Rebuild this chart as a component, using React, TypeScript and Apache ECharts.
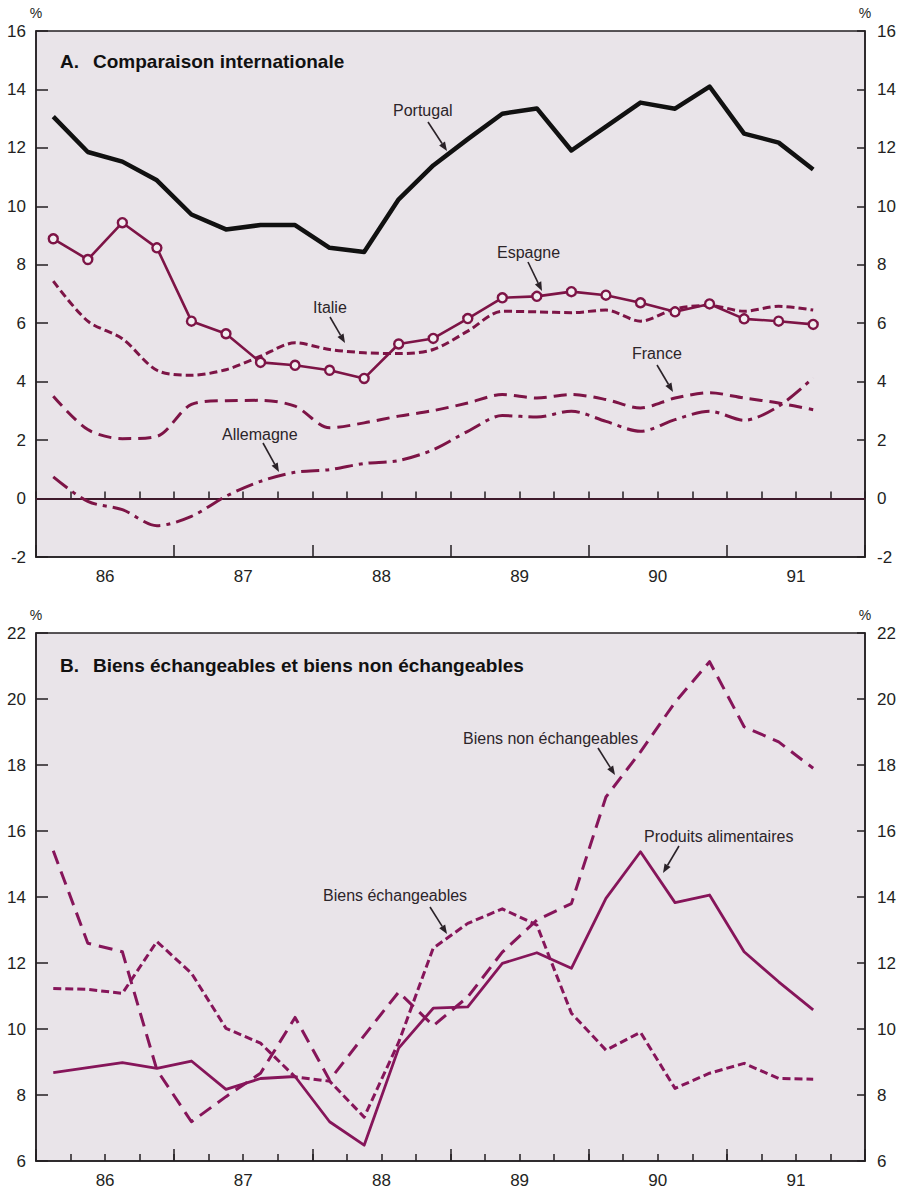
import React, { useEffect, useRef } from "react";
import * as echarts from "echarts";

// ---- Data (quarterly, 1986 Q1 .. 1991 Q4) ----
const years = ["86", "87", "88", "89", "90", "91"];
const quarters = years.flatMap((y) => ["T1", "T2", "T3", "T4"].map((q) => y + q));

// Panel A : Comparaison internationale (%)
const portugal = [13.07, 11.86, 11.53, 10.89, 9.72, 9.21, 9.36, 9.36, 8.58, 8.44, 10.24, 11.4, 12.3, 13.17, 13.35, 11.91, 12.73, 13.55, 13.34, 14.1, 12.49, 12.18, 11.26];
const espagne = [8.89, 8.18, 9.44, 8.58, 6.07, 5.64, 4.66, 4.56, 4.39, 4.11, 5.29, 5.48, 6.16, 6.87, 6.92, 7.08, 6.96, 6.7, 6.39, 6.66, 6.15, 6.07, 5.96];
const italie = [7.44, 6.07, 5.47, 4.39, 4.22, 4.41, 4.87, 5.33, 5.1, 4.99, 4.96, 5.1, 5.73, 6.41, 6.39, 6.36, 6.45, 6.07, 6.49, 6.61, 6.41, 6.58, 6.45];
const france = [3.5, 2.36, 2.05, 2.13, 3.22, 3.35, 3.36, 3.16, 2.42, 2.59, 2.82, 3.01, 3.27, 3.56, 3.44, 3.56, 3.39, 3.1, 3.44, 3.62, 3.44, 3.27, 3.04];
const allemagne = [0.74, -0.1, -0.38, -0.93, -0.61, 0.08, 0.59, 0.9, 0.99, 1.2, 1.3, 1.67, 2.3, 2.84, 2.79, 2.99, 2.64, 2.3, 2.7, 2.99, 2.68, 3.16, 4.13];

// Panel B : Biens échangeables et biens non échangeables (%)
const produitsAlimentaires = [8.68, 8.83, 8.98, 8.81, 9.03, 8.17, 8.5, 8.56, 7.19, 6.48, 9.42, 10.63, 10.67, 11.99, 12.31, 11.84, 13.96, 15.37, 13.83, 14.06, 12.34, 11.43, 10.58];
const biensNonEchangeables = [15.4, 12.6, 12.34, 8.76, 7.19, 7.95, 8.66, 10.35, 8.45, 9.8, 11.12, 10.1, 10.97, 12.33, 13.3, 13.8, 17.03, 18.4, 19.9, 21.13, 19.16, 18.7, 17.9];
const biensEchangeables = [11.23, 11.2, 11.08, 12.65, 11.69, 10.02, 9.57, 8.55, 8.42, 7.33, 9.6, 12.45, 13.2, 13.64, 13.15, 10.48, 9.36, 9.9, 8.2, 8.66, 8.96, 8.5, 8.48];

const yTicksA = { min: -2, max: 16, interval: 2 };
const yTicksB = { min: 6, max: 22, interval: 2 };

const FONT = "'Liberation Sans', Arial, Helvetica, sans-serif";
const AXIS = "#231f22";
const LINE = "#7d1446";
const LINE_B = "#86155a";
const BG = "#e9e4e9";

function arrow(x1: number, y1: number, x2: number, y2: number) {
  const dx = x2 - x1;
  const dy = y2 - y1;
  const len = Math.sqrt(dx * dx + dy * dy);
  const ux = dx / len;
  const uy = dy / len;
  const hl = 9;
  const hw = 3.5;
  const bx = x2 - ux * hl;
  const by = y2 - uy * hl;
  return [
    {
      type: "line",
      shape: { x1, y1, x2: bx, y2: by },
      style: { stroke: "#2a2228", lineWidth: 1.6 },
      z: 100,
    },
    {
      type: "polygon",
      shape: {
        points: [
          [x2, y2],
          [bx - uy * hw, by + ux * hw],
          [bx + uy * hw, by - ux * hw],
        ],
      },
      style: { fill: "#2a2228" },
      z: 100,
    },
  ];
}

function label(text: string, x: number, y: number, size = 16, bold = false, color = "#2c2529") {
  return {
    type: "text",
    x,
    y,
    z: 100,
    style: {
      text,
      fill: color,
      font: `${bold ? "bold " : ""}${size}px ${FONT}`,
      textAlign: "left",
      align: "left",
      textVerticalAlign: "middle",
      verticalAlign: "middle",
    },
  };
}

function xAxesFor(grid: number) {
  return [
    {
      type: "category",
      gridIndex: grid,
      data: quarters,
      boundaryGap: true,
      position: "bottom",
      axisLine: { show: false },
      axisTick: { show: true, inside: true, length: 7, interval: 0, lineStyle: { color: AXIS, width: 1.5 } },
      axisLabel: { show: false },
      splitLine: { show: false },
    },
    {
      type: "value",
      gridIndex: grid,
      position: "bottom",
      min: 0,
      max: 24,
      interval: 4,
      axisLine: { show: true, onZero: false, lineStyle: { color: AXIS, width: 1.5 } },
      axisTick: { show: true, inside: true, length: 12, lineStyle: { color: AXIS, width: 1.5 } },
      axisLabel: { show: false },
      splitLine: { show: false },
    },
    {
      type: "value",
      gridIndex: grid,
      position: "bottom",
      min: 0,
      max: 24,
      interval: 2,
      axisLine: { show: false, onZero: false },
      axisTick: { show: false },
      axisLabel: {
        show: true,
        margin: 11,
        fontSize: 17,
        fontFamily: FONT,
        color: AXIS,
        formatter: (v: number) => (v % 4 === 2 ? years[(v - 2) / 4] : ""),
      },
      splitLine: { show: false },
    },
  ];
}

function yAxesFor(grid: number, t: { min: number; max: number; interval: number }) {
  const common = {
    type: "value",
    gridIndex: grid,
    min: t.min,
    max: t.max,
    interval: t.interval,
    splitLine: { show: false },
    name: "%",
    nameLocation: "end",
    nameGap: 11,
    nameTextStyle: { fontSize: 14, fontFamily: FONT, color: AXIS },
  };
  return [
    {
      ...common,
      position: "left",
      axisLine: { show: true, onZero: false, lineStyle: { color: AXIS, width: 1.5 } },
      axisTick: { show: true, inside: true, length: 12, lineStyle: { color: AXIS, width: 1.5 } },
      axisLabel: { margin: 10, fontSize: 17, fontFamily: FONT, color: AXIS },
    },
    {
      ...common,
      position: "right",
      axisLine: { show: true, onZero: false, lineStyle: { color: AXIS, width: 1.5 } },
      axisTick: { show: true, inside: true, length: 8, lineStyle: { color: AXIS, width: 1.5 } },
      axisLabel: { margin: 12, fontSize: 17, fontFamily: FONT, color: AXIS },
    },
  ];
}

export default function App() {
  const ref = useRef<HTMLDivElement>(null);

  useEffect(() => {
    if (!ref.current) return;
    const chart = echarts.init(ref.current, undefined, { renderer: "svg" });

    const lineSeries = (
      name: string,
      data: number[],
      xi: number,
      yi: number,
      color: string,
      width: number,
      type: any,
      smooth: number | boolean = false,
      extra: any = {}
    ) => ({
      name,
      type: "line",
      xAxisIndex: xi,
      yAxisIndex: yi,
      data,
      smooth,
      showSymbol: false,
      symbol: "none",
      lineStyle: { color, width, type, cap: "butt", join: "round" },
      z: 5,
      ...extra,
    });

    const option: any = {
      animation: false,
      textStyle: { fontFamily: FONT },
      grid: [
        { left: 36, top: 31, width: 829, height: 526, show: true, backgroundColor: BG, borderColor: AXIS, borderWidth: 1.5 },
        { left: 36, top: 633, width: 829, height: 528, show: true, backgroundColor: BG, borderColor: AXIS, borderWidth: 1.5 },
      ],
      xAxis: [...xAxesFor(0), ...xAxesFor(1)],
      yAxis: [...yAxesFor(0, yTicksA), ...yAxesFor(1, yTicksB)],
      series: [
        lineSeries("Allemagne", allemagne, 0, 0, LINE, 3, [18, 6, 4, 6], 0.3, {
          markLine: {
            silent: true,
            symbol: "none",
            label: { show: false },
            lineStyle: { color: "#3f1a2c", width: 2, type: "solid" },
            data: [{ yAxis: 0 }],
          },
        }),
        lineSeries("France", france, 0, 0, LINE, 3, [13, 7], 0.3),
        lineSeries("Italie", italie, 0, 0, LINE, 3, [8, 4], 0.3),
        lineSeries("Espagne", espagne, 0, 0, LINE, 2.6, "solid", false, {
          showSymbol: true,
          symbol: "circle",
          symbolSize: 9,
          itemStyle: { color: "#f1eef1", borderColor: LINE, borderWidth: 2.4 },
        }),
        lineSeries("Portugal", portugal, 0, 0, "#111111", 4.5, "solid"),
        lineSeries("Biens non échangeables", biensNonEchangeables, 3, 2, LINE_B, 3, [14, 8]),
        lineSeries("Biens échangeables", biensEchangeables, 3, 2, LINE_B, 3, [8, 4]),
        lineSeries("Produits alimentaires", produitsAlimentaires, 3, 2, LINE_B, 2.8, "solid"),
      ],
      graphic: [
        label("A.", 60, 61, 19, true, "#111"),
        label("Comparaison internationale", 93, 61, 19, true, "#111"),
        label("B.", 60, 665, 19, true, "#111"),
        label("Biens échangeables et biens non échangeables", 93, 665, 19, true, "#111"),

        label("Portugal", 393, 110),
        ...arrow(428, 122, 447, 151),
        label("Espagne", 497, 252),
        ...arrow(528, 262, 542, 291),
        label("Italie", 313, 307),
        ...arrow(330, 317, 345, 343),
        label("France", 632, 353),
        ...arrow(657, 365, 673, 392),
        label("Allemagne", 222, 434),
        ...arrow(263, 443, 279, 472),

        label("Biens non échangeables", 463, 738),
        ...arrow(598, 748, 615, 775),
        label("Produits alimentaires", 644, 836),
        ...arrow(679, 846, 663, 873),
        label("Biens échangeables", 323, 895),
        ...arrow(430, 907, 447, 934),
      ],
    };

    chart.setOption(option);
    return () => chart.dispose();
  }, []);

  return (
    <div
      ref={ref}
      style={{ position: "fixed", left: 0, top: 0, width: 903, height: 1193, background: "#ffffff" }}
    />
  );
}
